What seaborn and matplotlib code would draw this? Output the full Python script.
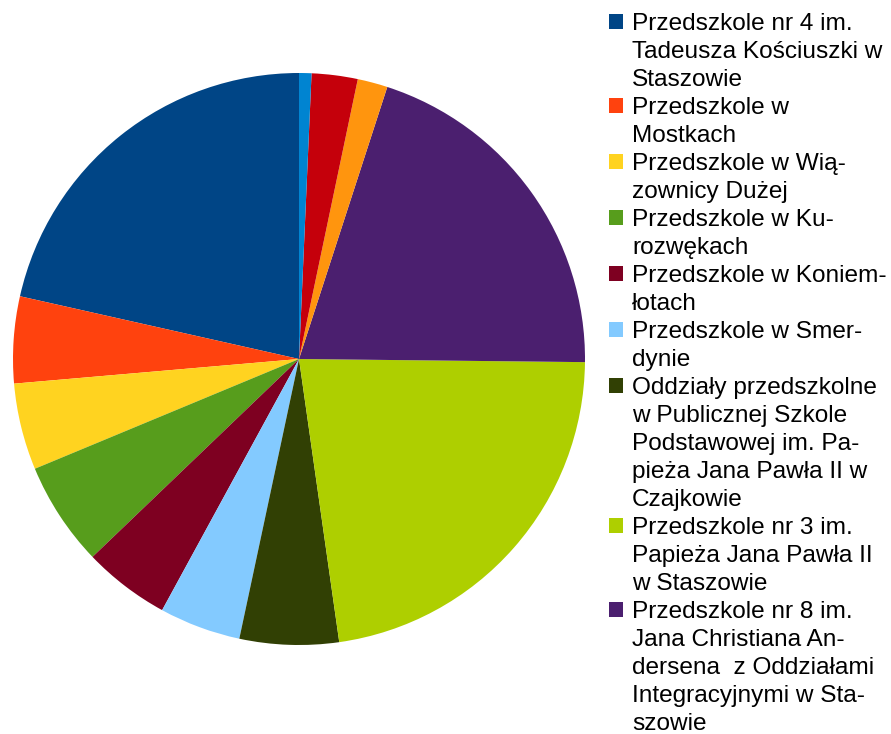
import matplotlib
matplotlib.use("Agg")
import matplotlib.pyplot as plt
from matplotlib.patches import Rectangle
import seaborn as sns

# udzial procentowy, kolejnosc jak w legendzie
values = [21.5, 4.9, 4.9, 5.9, 4.9, 4.6, 5.6, 22.6, 20.2, 1.7, 2.6, 0.7]

labels = [
    "Przedszkole nr 4 im.\nTadeusza Kościuszki w\nStaszowie",
    "Przedszkole w\nMostkach",
    "Przedszkole w Wią-\nzownicy Dużej",
    "Przedszkole w Ku-\nrozwękach",
    "Przedszkole w Koniem-\nłotach",
    "Przedszkole w Smer-\ndynie",
    "Oddziały przedszkolne\nw Publicznej Szkole\nPodstawowej im. Pa-\npieża Jana Pawła II w\nCzajkowie",
    "Przedszkole nr 3 im.\nPapieża Jana Pawła II\nw Staszowie",
    "Przedszkole nr 8 im.\nJana Christiana An-\ndersena  z Oddziałami\nIntegracyjnymi w Sta-\nszowie",
]

colors = ["#004586", "#ff420e", "#ffd320", "#579d1c", "#7e0021", "#83caff",
          "#314004", "#aecf00", "#4b1f6f", "#ff950e", "#c5000b", "#0084d1"]

sns.set_theme(style="white")
plt.rcParams['font.family'] = ['Liberation Sans', 'DejaVu Sans']
plt.rcParams['text.color'] = 'black'

W, H = 891, 734
fig = plt.figure(figsize=(W / 100, H / 100), dpi=100)
cx, cy, r = 299, 359, 286
ax = fig.add_axes([(cx - r) / W, (H - cy - r) / H, 2 * r / W, 2 * r / H])

pal = sns.color_palette(colors)
wedges, _ = ax.pie(values, colors=pal, startangle=90, counterclock=True,
                   wedgeprops=dict(linewidth=0, antialiased=True))
ax.set_xlim(-1, 1)
ax.set_ylim(-1, 1)
ax.set_aspect('equal')

# legenda: jedna pozycja na wiersz, kwadrat tylko przy pierwszym wierszu
handles, texts = [], []
for w, lab in zip(wedges, labels):
    lines = lab.split("\n")
    handles.append(Rectangle((0, 0), 1, 1, facecolor=w.get_facecolor(), linewidth=0))
    texts.append(lines[0])
    for ln in lines[1:]:
        handles.append(Rectangle((0, 0), 1, 1, alpha=0, linewidth=0))
        texts.append(ln)

fig.legend(handles, texts, loc='upper left', bbox_to_anchor=(609 / W, 1 - 13 / H),
           frameon=False, fontsize=17.6, borderpad=0, borderaxespad=0,
           handlelength=0.57, handleheight=0.57, handletextpad=0.37,
           labelspacing=0.245, labelcolor='black')

fig.savefig("out.png", dpi=100)
